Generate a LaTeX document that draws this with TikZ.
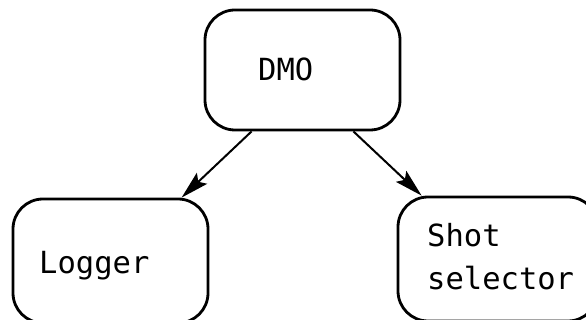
\documentclass[tikz,border=0pt]{standalone}
\usepackage{fontspec}
\setmainfont{DejaVu Sans Mono}
\usetikzlibrary{arrows.meta}
\begin{document}
\begin{tikzpicture}[x=1pt,y=-1pt,
  box/.style={draw=black,line width=2.8pt,rounded corners=30pt,inner sep=0pt},
  lbl/.style={anchor=base west,inner sep=0pt,font=\fontsize{30.5}{36}\selectfont,align=left},
  arr/.style={line width=2pt,-{Stealth[length=28pt,width=15pt,inset=5pt]}}]
\useasboundingbox (0,0) rectangle (586,320);
\clip (0,0) rectangle (586,320);
\node[box,minimum width=195pt,minimum height=120pt] (dmo) at (302.5,70) {};
\node[box,minimum width=195pt,minimum height=124pt] (logger) at (110.5,261) {};
\node[box,minimum width=200pt,minimum height=124pt] (shot) at (498,259) {};
\node[lbl] (tdmo) at (258,81) {DMO};
\node[lbl] (tlog) at (39,273) {Logger};
\node[lbl] (tshot) at (427,247) {Shot};
\node[lbl] (tsel) at (427,290) {selector};
\draw[arr] ([xshift=48pt]dmo.south west) -- ([xshift=170pt]logger.north west);
\draw[arr] ([xshift=-48pt]dmo.south east) -- ([xshift=25pt]shot.north west);
\end{tikzpicture}
\end{document}
